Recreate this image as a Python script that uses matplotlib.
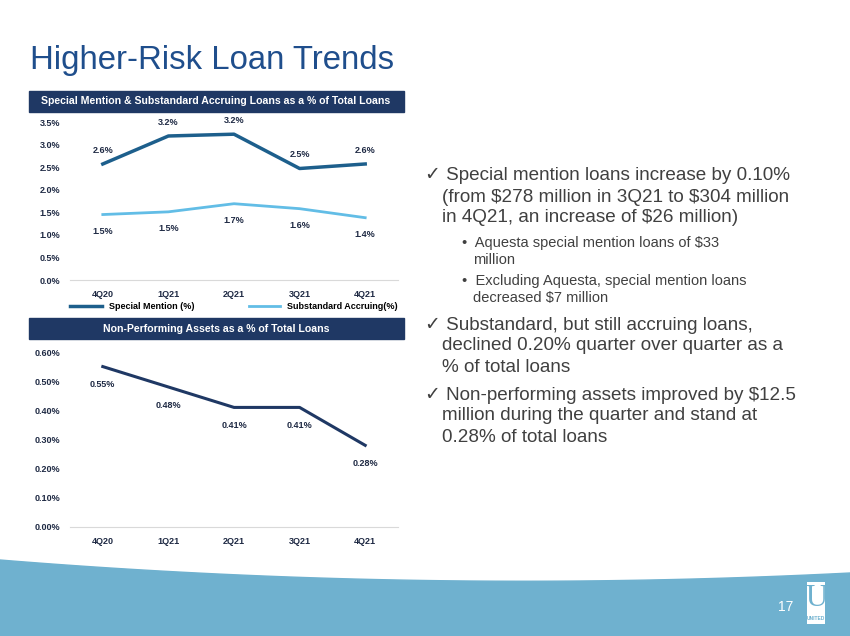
import numpy as np
import matplotlib.pyplot as plt
from matplotlib.patches import Rectangle, Polygon

quarters = ['4Q20', '1Q21', '2Q21', '3Q21', '4Q21']
special_mention = [2.57, 3.19, 3.23, 2.47, 2.57]
special_labels = ['2.6%', '3.2%', '3.2%', '2.5%', '2.6%']
substandard = [1.45, 1.51, 1.69, 1.58, 1.38]
substandard_labels = ['1.5%', '1.5%', '1.7%', '1.6%', '1.4%']
npa = [0.55, 0.48, 0.41, 0.41, 0.28]
npa_labels = ['0.55%', '0.48%', '0.41%', '0.41%', '0.28%']

W, H = 850, 636
NAVY = '#1f3864'
DARK = '#1d5f8c'
LIGHT = '#62bde6'
TXT = '#1f2a44'

plt.rcParams['font.family'] = ['Liberation Sans', 'DejaVu Sans']
fig = plt.figure(figsize=(8.5, 6.36), dpi=100)


def fx(px):
    return px / W


def fy(py):
    return 1 - py / H


# title
fig.text(fx(30), fy(60), 'Higher-Risk Loan Trends', fontsize=23.7, color='#1f4e8c', va='center')

# header bars
for y0, y1, txt in [(91, 112, 'Special Mention & Substandard Accruing Loans as a % of Total Loans'),
                    (318, 339, 'Non-Performing Assets as a % of Total Loans')]:
    fig.patches.append(Rectangle((fx(29), fy(y1)), fx(404 - 29), (y1 - y0) / H,
                                 transform=fig.transFigure, color=NAVY, zorder=0))
    fig.text(fx(216), fy((y0 + y1) / 2), txt, color='white', fontsize=7.6,
             fontweight='bold', ha='center', va='center')

x = np.arange(len(quarters))

# top chart
ax1 = fig.add_axes([fx(70), fy(280), fx(328), (280 - 122) / H])
ax1.plot(x, special_mention, color=DARK, lw=2.5, label='Special Mention (%)')
ax1.plot(x, substandard, color=LIGHT, lw=2, label='Substandard Accruing(%)')
for i in x:
    ax1.annotate(special_labels[i], (i, special_mention[i]), xytext=(0, 8),
                 textcoords='offset points', ha='center', fontsize=6.5, fontweight='bold', color=TXT)
    ax1.annotate(substandard_labels[i], (i, substandard[i]), xytext=(0, -14),
                 textcoords='offset points', ha='center', fontsize=6.5, fontweight='bold', color=TXT)
ax1.set_xlim(-0.5, 4.5)
ax1.set_ylim(0, 3.5)
ax1.set_yticks(np.arange(0, 3.51, 0.5))
ax1.set_yticklabels([f'{v:.1f}%' for v in np.arange(0, 3.51, 0.5)])
ax1.legend(loc='upper center', bbox_to_anchor=(0.5, -0.09), ncol=2, frameon=False,
           prop={'weight': 'bold', 'size': 6.5}, handlelength=3.5, columnspacing=6)

# bottom chart
ax2 = fig.add_axes([fx(70), fy(527), fx(328), (527 - 352) / H])
ax2.plot(x, npa, color=NAVY, lw=2.2)
for i in x:
    ax2.annotate(npa_labels[i], (i, npa[i]), xytext=(0, -15),
                 textcoords='offset points', ha='center', fontsize=6.5, fontweight='bold', color=TXT)
ax2.set_xlim(-0.5, 4.5)
ax2.set_ylim(0, 0.6)
ax2.set_yticks(np.arange(0, 0.61, 0.1))
ax2.set_yticklabels([f'{v:.2f}%' for v in np.arange(0, 0.61, 0.1)])

for ax in (ax1, ax2):
    ax.set_xticks(x)
    ax.set_xticklabels(quarters)
    for s in ('top', 'right', 'left'):
        ax.spines[s].set_visible(False)
    ax.spines['bottom'].set_color('#d9d9d9')
    ax.tick_params(length=0, labelsize=6.5, colors=TXT, pad=7)
    for lab in ax.get_xticklabels() + ax.get_yticklabels():
        lab.set_fontweight('bold')
    ax.set_facecolor('none')

# bullets
bullets = [
    (425, 176, '\u2713 Special mention loans increase by 0.10%', 13.6),
    (442, 197, '(from \\$278 million in 3Q21 to \\$304 million', 13.6),
    (442, 218, 'in 4Q21, an increase of \\$26 million)', 13.6),
    (462, 243, '\u2022  Aquesta special mention loans of \\$33', 10.5),
    (473, 260, 'million', 10.5),
    (462, 281, '\u2022  Excluding Aquesta, special mention loans', 10.5),
    (473, 298, 'decreased \\$7 million', 10.5),
    (425, 325, '\u2713 Substandard, but still accruing loans,', 13.6),
    (442, 346, 'declined 0.20% quarter over quarter as a', 13.6),
    (442, 367, '% of total loans', 13.6),
    (425, 395, '\u2713 Non-performing assets improved by \\$12.5', 13.6),
    (442, 416, 'million during the quarter and stand at', 13.6),
    (442, 437, '0.28% of total loans', 13.6),
]
for px, py, t, fs in bullets:
    fig.text(fx(px), fy(py), t, fontsize=fs, color='#404040', va='center')

# footer wave
t = np.linspace(0, 1, 80)
top = 560 + 68.96 * t - 55.96 * t ** 2
pts = [(fx(a * W), fy(b)) for a, b in zip(t, top)] + [(1, 0), (0, 0)]
fig.patches.append(Polygon(pts, closed=True, transform=fig.transFigure, color='#6fb1cf', zorder=0))
fig.text(fx(786), fy(607), '17', fontsize=10, color='white', ha='center', va='center')
fig.patches.append(Rectangle((fx(807), fy(624)), fx(18), 42 / H, transform=fig.transFigure,
                             facecolor='white', edgecolor='none'))
fig.text(fx(816), fy(598), 'U', fontsize=22, color='#6fb1cf', ha='center', va='center', family='Liberation Serif')
fig.text(fx(816), fy(618), 'UNITED', fontsize=3.5, color='#6fb1cf', ha='center', va='center', fontweight='bold')

fig.savefig('out.png', dpi=100)
